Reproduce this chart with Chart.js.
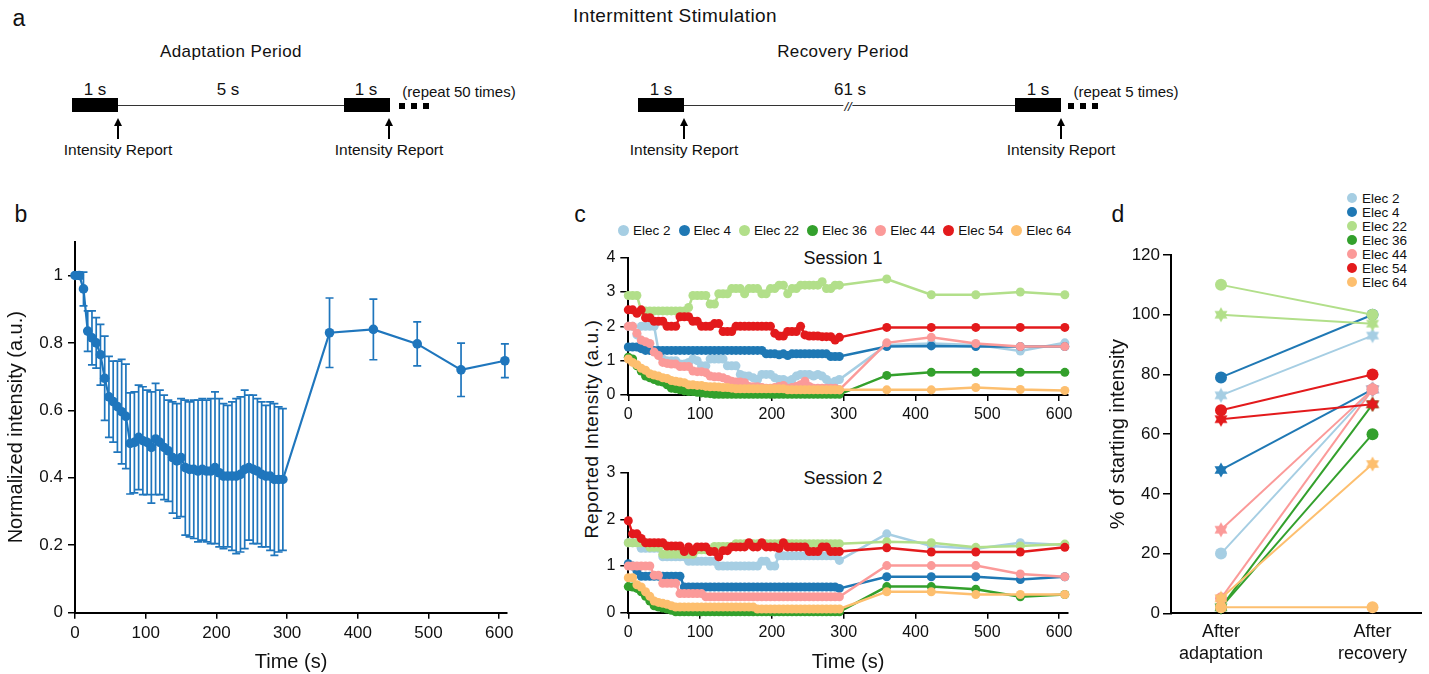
<!DOCTYPE html>
<html>
<head>
<meta charset="utf-8">
<script src="https://cdn.jsdelivr.net/npm/chart.js@4.4.1/dist/chart.umd.min.js"></script>
<style>
  body { margin: 0; background: #fff; }
  #fig { position: relative; width: 1429px; height: 674px; overflow: hidden;
         font-family: "Liberation Sans", Arial, Helvetica, sans-serif; color: #111; }
  .t { position: absolute; white-space: nowrap; transform: translate(-50%, -50%); line-height: 1; }
  .blk { position: absolute; background: #000; }
  .ln { position: absolute; background: #333; height: 1.5px; }
  .sq { position: absolute; background: #000; width: 6px; height: 6px; }
  .arr { position: absolute; width: 1.6px; height: 14px; background: #000; }
  .head { position: absolute; width: 0; height: 0; border-left: 4px solid transparent;
          border-right: 4px solid transparent; border-bottom: 8px solid #000; }
  canvas { position: absolute; }
  .legc { position: absolute; display: flex; align-items: center; font-size: 13.5px; }
  .legc span.d, .legd span.d { display: inline-block; width: 11px; height: 11px; border-radius: 50%; margin-right: 4px; }
  .legc .it { display: flex; align-items: center; margin-right: 8px; }
  .legd { position: absolute; font-size: 13.5px; }
  .legd .it { display: flex; align-items: center; height: 14px; }
</style>
</head>
<body>
<div id="fig">
  <!-- panel a: protocol schematic -->
  <div class="t" style="left:19px;top:18px;font-size:23px">a</div>
  <div class="t" style="left:675px;top:15px;font-size:19px;letter-spacing:0.4px">Intermittent Stimulation</div>
  <div class="t" style="left:231px;top:51px;font-size:17px;letter-spacing:0.4px">Adaptation Period</div>
  <div class="t" style="left:843px;top:51px;font-size:17px;letter-spacing:0.4px">Recovery Period</div>

  <div class="ln" style="left:118px;top:104.5px;width:226px"></div>
  <div class="ln" style="left:684px;top:104.5px;width:331px"></div>
  <div class="blk" style="left:72px;top:98px;width:46px;height:14px"></div>
  <div class="blk" style="left:344px;top:98px;width:46px;height:14px"></div>
  <div class="blk" style="left:638px;top:98px;width:46px;height:14px"></div>
  <div class="blk" style="left:1015px;top:98px;width:46px;height:14px"></div>
  <div class="sq" style="left:399px;top:103px"></div>
  <div class="sq" style="left:411px;top:103px"></div>
  <div class="sq" style="left:423px;top:103px"></div>
  <div class="sq" style="left:1068px;top:103px"></div>
  <div class="sq" style="left:1080px;top:103px"></div>
  <div class="sq" style="left:1092px;top:103px"></div>
  <div class="t" style="left:848px;top:106px;font-size:13px;background:#fff;padding:0 1px;font-style:italic">//</div>

  <div class="t" style="left:95px;top:89px;font-size:17px">1 s</div>
  <div class="t" style="left:228px;top:89px;font-size:17px">5 s</div>
  <div class="t" style="left:366px;top:89px;font-size:17px">1 s</div>
  <div class="t" style="left:661px;top:89px;font-size:17px">1 s</div>
  <div class="t" style="left:850px;top:89px;font-size:17px">61 s</div>
  <div class="t" style="left:1038px;top:89px;font-size:17px">1 s</div>
  <div class="t" style="left:459px;top:91px;font-size:15px">(repeat 50 times)</div>
  <div class="t" style="left:1126px;top:91px;font-size:15px">(repeat 5 times)</div>

  <div class="head" style="left:114px;top:118px"></div><div class="arr" style="left:117.2px;top:125px"></div>
  <div class="head" style="left:385px;top:118px"></div><div class="arr" style="left:388.2px;top:125px"></div>
  <div class="head" style="left:680px;top:118px"></div><div class="arr" style="left:683.2px;top:125px"></div>
  <div class="head" style="left:1057px;top:118px"></div><div class="arr" style="left:1060.2px;top:125px"></div>
  <div class="t" style="left:118px;top:150px;font-size:15.5px">Intensity Report</div>
  <div class="t" style="left:389px;top:150px;font-size:15.5px">Intensity Report</div>
  <div class="t" style="left:684px;top:150px;font-size:15.5px">Intensity Report</div>
  <div class="t" style="left:1061px;top:150px;font-size:15.5px">Intensity Report</div>

  <!-- panel letters and shared texts -->
  <div class="t" style="left:21px;top:214px;font-size:23px">b</div>
  <div class="t" style="left:580px;top:214px;font-size:23px">c</div>
  <div class="t" style="left:1118px;top:214px;font-size:23px">d</div>
  <div class="t" style="left:843px;top:258px;font-size:18px">Session 1</div>
  <div class="t" style="left:843px;top:478px;font-size:18px">Session 2</div>
  <div class="t" style="left:591px;top:429px;font-size:19px;letter-spacing:0.6px;transform:translate(-50%,-50%) rotate(-90deg)">Reported Intensity (a.u.)</div>
  <div id="legC" class="legc" style="left:618px;top:221px;height:18px"></div>
  <div id="legD" class="legd" style="left:1347px;top:191px"></div>

  <canvas id="chartB" width="520" height="474" style="left:0;top:200px"></canvas>
  <canvas id="chartC1" width="520" height="190" style="left:570px;top:240px"></canvas>
  <canvas id="chartC2" width="520" height="234" style="left:570px;top:440px"></canvas>
  <canvas id="chartD" width="339" height="474" style="left:1090px;top:200px"></canvas>
</div>

<script>
// ---- data ----
// report times (s): 50 reports during adaptation, 5 during recovery
const timeS = [0, 6, 12, 18, 24, 30, 36, 42, 48, 54, 60, 66, 72, 78, 84, 90, 96, 102, 108, 114,
  120, 126, 132, 138, 144, 150, 156, 162, 168, 174, 180, 186, 192, 198, 204, 210, 216, 222, 228, 234,
  240, 246, 252, 258, 264, 270, 276, 282, 288, 294, 360, 422, 484, 546, 608];

// panel b: normalized intensity, mean and error
const bMean = [1.0, 1.0, 0.96, 0.835, 0.815, 0.80, 0.765, 0.695, 0.64, 0.626, 0.611, 0.596, 0.582, 0.502, 0.505,
  0.52, 0.51, 0.505, 0.49, 0.515, 0.505, 0.49, 0.48, 0.46, 0.45, 0.46, 0.43, 0.425, 0.425, 0.42,
  0.425, 0.42, 0.42, 0.43, 0.415, 0.405, 0.405, 0.405, 0.405, 0.41, 0.425, 0.43, 0.425, 0.42, 0.41,
  0.405, 0.405, 0.395, 0.395, 0.395, 0.83, 0.84, 0.797, 0.72, 0.747];
const bErr = [0, 0.01, 0.05, 0.06, 0.08, 0.075, 0.09, 0.125, 0.12, 0.12, 0.135, 0.155, 0.155, 0.15, 0.15,
  0.155, 0.16, 0.155, 0.165, 0.165, 0.155, 0.155, 0.15, 0.165, 0.17, 0.175, 0.2, 0.2, 0.205, 0.21,
  0.21, 0.21, 0.215, 0.225, 0.22, 0.215, 0.21, 0.22, 0.23, 0.23, 0.235, 0.215, 0.22, 0.215, 0.215,
  0.21, 0.22, 0.225, 0.215, 0.21, 0.103, 0.09, 0.065, 0.079, 0.05];

const elecNames = ['Elec 2', 'Elec 4', 'Elec 22', 'Elec 36', 'Elec 44', 'Elec 54', 'Elec 64'];
const elecColors = ['#a6cee3', '#1f78b4', '#b2df8a', '#33a02c', '#fb9a99', '#e31a1c', '#fdbf6f'];

// panel c, session 1: reported intensity per electrode
const e2s1 = [2.0, 2.0, 1.75, 2.0, 2.0, 2.0, 2.0, 1.3, 1.05, 1.0, 1.0, 1.0, 0.9, 0.9, 0.95, 1.05, 1.0, 0.85, 0.85, 1.05,
  1.05, 1.05, 1.05, 0.85, 0.85, 0.85, 0.6, 0.55, 0.55, 0.5, 0.45, 0.6, 0.6, 0.6, 0.5, 0.45, 0.45, 0.4, 0.45, 0.55,
  0.6, 0.6, 0.6, 0.55, 0.6, 0.55, 0.45, 0.35, 0.4, 0.45, 1.46, 1.5, 1.46, 1.28, 1.52];
const e4s1 = [1.4, 1.4, 1.4, 1.35, 1.3, 1.3, 1.3, 1.3, 1.3, 1.3, 1.3, 1.3, 1.3, 1.3, 1.3, 1.3, 1.3, 1.3, 1.3, 1.3,
  1.3, 1.3, 1.3, 1.3, 1.3, 1.3, 1.3, 1.3, 1.3, 1.3, 1.3, 1.3, 1.2, 1.2, 1.2, 1.17, 1.2, 1.15, 1.2, 1.2,
  1.2, 1.2, 1.2, 1.2, 1.2, 1.2, 1.2, 1.12, 1.12, 1.12, 1.41, 1.43, 1.41, 1.41, 1.41];
const e22s1 = [2.9, 2.9, 2.9, 2.45, 2.45, 2.45, 2.45, 2.45, 2.45, 2.45, 2.45, 2.45, 2.45, 2.45, 2.55, 2.9, 2.9, 2.9, 2.9, 2.65,
  2.65, 2.95, 2.95, 2.95, 3.1, 3.1, 3.1, 2.95, 3.1, 3.1, 3.1, 2.95, 2.95, 3.1, 3.1, 3.2, 3.2, 2.95, 3.1, 3.1,
  3.2, 3.2, 3.2, 3.2, 3.2, 3.3, 3.1, 3.1, 3.2, 3.2, 3.38, 2.92, 2.92, 3.0, 2.92];
const e36s1 = [1.1, 1.05, 0.85, 0.7, 0.55, 0.5, 0.45, 0.4, 0.38, 0.3, 0.2, 0.18, 0.15, 0.12, 0.1, 0.1, 0.08, 0.06, 0.05, 0.04,
  0.02, 0.02, 0.02, 0.02, 0.02, 0.02, 0.02, 0.02, 0.02, 0.02, 0.02, 0.02, 0.02, 0.02, 0.02, 0.02, 0.02, 0.02, 0.02, 0.02,
  0.02, 0.02, 0.02, 0.02, 0.02, 0.02, 0.02, 0.02, 0.02, 0.02, 0.57, 0.66, 0.66, 0.66, 0.66];
const e44s1 = [2.0, 2.0, 1.8, 1.6, 1.55, 1.5, 1.25, 1.15, 0.95, 0.92, 0.9, 0.9, 0.83, 0.83, 0.83, 0.7, 0.68, 0.68, 0.65, 0.55,
  0.53, 0.53, 0.5, 0.45, 0.4, 0.38, 0.38, 0.36, 0.25, 0.24, 0.24, 0.22, 0.2, 0.2, 0.22, 0.25, 0.28, 0.2, 0.22, 0.25,
  0.3, 0.4, 0.25, 0.2, 0.2, 0.2, 0.2, 0.2, 0.2, 0.15, 1.52, 1.68, 1.5, 1.41, 1.41];
const e54s1 = [2.48, 2.48, 2.38, 2.48, 2.25, 2.25, 2.15, 2.15, 2.15, 2.0, 2.0, 2.0, 2.28, 2.28, 2.28, 2.15, 2.15, 2.0, 2.0, 2.0,
  2.08, 2.08, 1.85, 1.85, 1.85, 2.0, 2.0, 2.0, 2.0, 2.0, 2.0, 2.0, 2.0, 2.0, 1.8, 1.72, 1.72, 1.85, 1.85, 1.85,
  2.0, 1.75, 1.72, 1.72, 1.72, 1.7, 1.7, 1.7, 1.6, 1.68, 1.97, 1.97, 1.97, 1.97, 1.97];
const e64s1 = [1.05, 0.95, 0.88, 0.78, 0.72, 0.62, 0.58, 0.55, 0.5, 0.48, 0.42, 0.4, 0.38, 0.36, 0.3, 0.3, 0.28, 0.28, 0.25, 0.24,
  0.24, 0.23, 0.22, 0.22, 0.2, 0.18, 0.18, 0.18, 0.18, 0.18, 0.18, 0.18, 0.18, 0.18, 0.18, 0.18, 0.18, 0.15, 0.15, 0.15,
  0.15, 0.15, 0.15, 0.15, 0.15, 0.15, 0.15, 0.15, 0.15, 0.15, 0.15, 0.15, 0.22, 0.16, 0.13];

// panel c, session 2
const e2s2 = [1.5, 1.5, 1.5, 1.38, 1.38, 1.38, 1.38, 1.38, 1.2, 1.2, 1.2, 1.2, 1.2, 1.2, 1.1, 1.1, 1.1, 1.1, 1.1, 1.1,
  1.1, 1.0, 1.0, 1.0, 1.0, 1.0, 1.0, 1.0, 1.0, 1.0, 1.0, 1.1, 1.1, 1.0, 1.0, 1.22, 1.22, 1.22, 1.22, 1.22,
  1.22, 1.22, 1.22, 1.22, 1.22, 1.22, 1.22, 1.22, 1.22, 1.12, 1.69, 1.43, 1.37, 1.5, 1.45];
const e4s2 = [1.05, 1.0, 0.9, 0.78, 0.78, 0.78, 0.78, 0.78, 0.78, 0.78, 0.78, 0.78, 0.78, 0.55, 0.55, 0.55, 0.55, 0.55, 0.55, 0.55,
  0.55, 0.55, 0.55, 0.55, 0.55, 0.55, 0.55, 0.55, 0.55, 0.55, 0.55, 0.55, 0.55, 0.55, 0.55, 0.55, 0.55, 0.55, 0.55, 0.55,
  0.55, 0.55, 0.55, 0.55, 0.55, 0.55, 0.55, 0.55, 0.55, 0.52, 0.77, 0.77, 0.77, 0.71, 0.77];
const e22s2 = [1.5, 1.5, 1.5, 1.5, 1.5, 1.4, 1.4, 1.4, 1.25, 1.25, 1.25, 1.25, 1.25, 1.25, 1.25, 1.25, 1.35, 1.35, 1.35, 1.35,
  1.42, 1.42, 1.42, 1.42, 1.42, 1.48, 1.48, 1.48, 1.48, 1.48, 1.48, 1.48, 1.48, 1.48, 1.48, 1.48, 1.48, 1.48, 1.48, 1.48,
  1.48, 1.48, 1.48, 1.48, 1.48, 1.48, 1.48, 1.48, 1.48, 1.48, 1.52, 1.5, 1.4, 1.43, 1.47];
const e36s2 = [0.56, 0.55, 0.52, 0.45, 0.35, 0.25, 0.15, 0.12, 0.1, 0.08, 0.05, 0.02, 0.02, 0.02, 0.02, 0.02, 0.02, 0.02, 0.02, 0.02,
  0.02, 0.02, 0.02, 0.02, 0.02, 0.02, 0.02, 0.02, 0.02, 0.02, 0.02, 0.02, 0.02, 0.02, 0.02, 0.02, 0.02, 0.02, 0.02, 0.02,
  0.02, 0.02, 0.02, 0.02, 0.02, 0.02, 0.02, 0.02, 0.02, 0.02, 0.56, 0.56, 0.5, 0.34, 0.39];
const e44s2 = [1.0, 1.0, 1.0, 1.0, 1.0, 1.0, 0.8, 0.8, 0.63, 0.63, 0.63, 0.63, 0.41, 0.41, 0.41, 0.41, 0.41, 0.41, 0.34, 0.34,
  0.34, 0.34, 0.34, 0.34, 0.34, 0.34, 0.34, 0.34, 0.34, 0.34, 0.34, 0.34, 0.34, 0.34, 0.34, 0.34, 0.34, 0.34, 0.34, 0.34,
  0.34, 0.34, 0.34, 0.34, 0.34, 0.34, 0.34, 0.34, 0.34, 0.34, 1.01, 1.01, 1.01, 0.83, 0.77];
const e54s2 = [1.97, 1.69, 1.69, 1.59, 1.5, 1.5, 1.5, 1.5, 1.5, 1.43, 1.43, 1.43, 1.43, 1.31, 1.41, 1.31, 1.41, 1.41, 1.41, 1.31,
  1.31, 1.2, 1.33, 1.33, 1.41, 1.41, 1.41, 1.41, 1.5, 1.41, 1.41, 1.5, 1.41, 1.41, 1.41, 1.38, 1.5, 1.41, 1.41, 1.41,
  1.41, 1.41, 1.31, 1.31, 1.31, 1.41, 1.41, 1.31, 1.31, 1.31, 1.39, 1.3, 1.3, 1.3, 1.4];
const e64s2 = [0.75, 0.75, 0.6, 0.55, 0.45, 0.35, 0.25, 0.22, 0.2, 0.18, 0.15, 0.12, 0.12, 0.12, 0.12, 0.12, 0.12, 0.12, 0.12, 0.12,
  0.12, 0.12, 0.12, 0.12, 0.12, 0.12, 0.12, 0.12, 0.12, 0.12, 0.08, 0.08, 0.08, 0.08, 0.08, 0.08, 0.08, 0.08, 0.08, 0.08,
  0.08, 0.08, 0.08, 0.08, 0.08, 0.08, 0.08, 0.08, 0.08, 0.08, 0.45, 0.45, 0.39, 0.39, 0.39];

// panel d: % of starting intensity (circles = session 1, stars = session 2)
const dCategories = [['After', 'adaptation'], ['After', 'recovery']];
const dAdaptS1 = [20, 79, 110, 2, 5, 68, 2];
const dRecovS1 = [75, 100, 100, 60, 75, 80, 2];
const dAdaptS2 = [73, 48, 100, 2, 28, 65, 5];
const dRecovS2 = [93, 75, 97, 70, 75, 70, 50];

// tick values / labels
const xTicksTime = [0, 100, 200, 300, 400, 500, 600];
const yTicksB = [0, 0.2, 0.4, 0.6, 0.8, 1];
const yTickLabelsB = ['0', '0.2', '0.4', '0.6', '0.8', '1'];
const yTicksC1 = [0, 1, 2, 3, 4];
const yTicksC2 = [0, 1, 2, 3];
const yTicksD = [0, 20, 40, 60, 80, 100, 120];

const bColor = '#1f76bd';

Chart.defaults.font.family = "'Liberation Sans', Arial, Helvetica, sans-serif";
Chart.defaults.color = '#111';
Chart.defaults.animation = false;
Chart.defaults.events = [];
Chart.defaults.plugins.legend.display = false;
Chart.defaults.plugins.tooltip.enabled = false;

// axis line + outward tick marks, nothing in the plot area
function axisStyle(tickLen) {
    return {
        border: { display: true, color: '#000', width: 2 },
        grid: { drawOnChartArea: false, drawTicks: true, tickLength: tickLen, color: '#000', lineWidth: 1.5 }
    };
}

// ---- panel b ----
const errorBars = {
    id: 'errorBars',
    beforeDatasetsDraw(chart) {
        const { ctx, scales: { x, y } } = chart;
        ctx.save();
        ctx.strokeStyle = bColor;
        ctx.lineWidth = 1.7;
        timeS.forEach((t, i) => {
            if (!bErr[i]) return;
            const px = x.getPixelForValue(t);
            const top = y.getPixelForValue(bMean[i] + bErr[i]);
            const bot = y.getPixelForValue(bMean[i] - bErr[i]);
            ctx.beginPath();
            ctx.moveTo(px, top); ctx.lineTo(px, bot);
            ctx.moveTo(px - 4, top); ctx.lineTo(px + 4, top);
            ctx.moveTo(px - 4, bot); ctx.lineTo(px + 4, bot);
            ctx.stroke();
        });
        ctx.restore();
    }
};

new Chart(document.getElementById('chartB'), {
    type: 'line',
    data: {
        datasets: [{
            data: timeS.map((t, i) => ({ x: t, y: bMean[i] })),
            borderColor: bColor, backgroundColor: bColor,
            borderWidth: 2.2, pointRadius: 4.8, pointBorderWidth: 0, tension: 0, clip: false
        }]
    },
    options: {
        responsive: false,
        layout: { padding: { left: 0, top: 41.7, right: 13, bottom: 0 } },
        scales: {
            x: {
                type: 'linear', min: 0, max: 611,
                ...axisStyle(6),
                afterBuildTicks: s => { s.ticks = xTicksTime.map(v => ({ value: v })); },
                afterFit: s => { s.height = 61.3; },
                ticks: { font: { size: 17 }, padding: 4, maxRotation: 0 },
                title: { display: true, text: 'Time (s)', font: { size: 20 }, padding: 0 }
            },
            y: {
                min: 0, max: 1.1,
                ...axisStyle(7),
                afterBuildTicks: s => { s.ticks = yTicksB.map(v => ({ value: v })); },
                afterFit: s => { s.width = 75; },
                ticks: { font: { size: 17 }, padding: 5, callback: (v, i) => yTickLabelsB[i] },
                title: { display: true, text: 'Normalized intensity (a.u.)', font: { size: 20 }, padding: { top: 4, bottom: 0 } }
            }
        }
    },
    plugins: [errorBars]
});

// ---- panel c ----
function electrodeSet(vals, idx) {
    return {
        label: elecNames[idx],
        data: timeS.map((t, i) => ({ x: t, y: vals[i] })),
        borderColor: elecColors[idx], backgroundColor: elecColors[idx],
        borderWidth: 2.5, pointRadius: 4.5, pointBorderWidth: 0, tension: 0, clip: false,
        order: -idx
    };
}

function sessionChart(id, series, yTicks, yMax, padTop, xHeight, showTitle) {
    return new Chart(document.getElementById(id), {
        type: 'line',
        data: { datasets: series.map((s, i) => electrodeSet(s, i)) },
        options: {
            responsive: false,
            layout: { padding: { left: 0, top: padTop, right: 22.3, bottom: 0 } },
            scales: {
                x: {
                    type: 'linear', min: 0, max: 612,
                    ...axisStyle(6),
                    afterBuildTicks: s => { s.ticks = xTicksTime.map(v => ({ value: v })); },
                    afterFit: s => { s.height = xHeight; },
                    ticks: { font: { size: 16 }, padding: 4, maxRotation: 0 },
                    title: { display: showTitle, text: 'Time (s)', font: { size: 20 }, padding: 0 }
                },
                y: {
                    min: 0, max: yMax,
                    ...axisStyle(8),
                    afterBuildTicks: s => { s.ticks = yTicks.map(v => ({ value: v })); },
                    afterFit: s => { s.width = 58.3; },
                    ticks: { font: { size: 16 }, padding: 5 }
                }
            }
        }
    });
}

sessionChart('chartC1', [e2s1, e4s1, e22s1, e36s1, e44s1, e54s1, e64s1], yTicksC1, 4, 17.7, 35, false);
sessionChart('chartC2', [e2s2, e4s2, e22s2, e36s2, e44s2, e54s2, e64s2], yTicksC2, 3, 32.7, 61.3, true);

// html legends built from the same names/colors
document.getElementById('legC').innerHTML = elecNames.map((n, i) =>
    `<div class="it"><span class="d" style="background:${elecColors[i]}"></span>${n}</div>`).join('');
document.getElementById('legD').innerHTML = elecNames.map((n, i) =>
    `<div class="it"><span class="d" style="width:10px;height:10px;margin-right:5px;background:${elecColors[i]}"></span>${n}</div>`).join('');

// ---- panel d ----
function hexagram(color) {
    const c = document.createElement('canvas');
    c.width = 16; c.height = 16;
    const g = c.getContext('2d');
    g.fillStyle = color;
    for (let k = 0; k < 2; k++) {
        g.beginPath();
        for (let j = 0; j < 3; j++) {
            const a = -Math.PI / 2 + k * Math.PI + j * 2 * Math.PI / 3;
            g.lineTo(8 + 7.5 * Math.cos(a), 8 + 7.5 * Math.sin(a));
        }
        g.closePath();
        g.fill();
    }
    return c;
}

const dSets = [];
elecNames.forEach((n, i) => {
    const col = elecColors[i];
    dSets.push({
        data: [{ x: 0, y: dAdaptS1[i] }, { x: 1, y: dRecovS1[i] }],
        borderColor: col, backgroundColor: col, borderWidth: 2,
        pointStyle: 'circle', pointRadius: 6, pointBorderWidth: 0, clip: false, order: -i
    });
    dSets.push({
        data: [{ x: 0, y: dAdaptS2[i] }, { x: 1, y: dRecovS2[i] }],
        borderColor: col, backgroundColor: col, borderWidth: 2,
        pointStyle: hexagram(col), pointRadius: 6, clip: false, order: -i
    });
});

new Chart(document.getElementById('chartD'), {
    type: 'line',
    data: { datasets: dSets },
    options: {
        responsive: false,
        layout: { padding: { left: 0, top: 55, right: 6, bottom: 0 } },
        scales: {
            x: {
                type: 'linear', min: -0.33, max: 1.32,
                border: { display: true, color: '#000', width: 2 },
                grid: { display: false, drawTicks: false },
                afterBuildTicks: s => { s.ticks = [0, 1].map(v => ({ value: v })); },
                afterFit: s => { s.height = 60.7; },
                ticks: { font: { size: 18 }, padding: 8, maxRotation: 0, callback: v => dCategories[v] }
            },
            y: {
                min: 0, max: 120,
                ...axisStyle(8),
                afterBuildTicks: s => { s.ticks = yTicksD.map(v => ({ value: v })); },
                afterFit: s => { s.width = 81; },
                ticks: { font: { size: 17 }, padding: 3 },
                title: { display: true, text: '% of starting intensity', font: { size: 20 }, padding: { top: 16, bottom: 0 } }
            }
        }
    }
});
</script>
</body>
</html>
